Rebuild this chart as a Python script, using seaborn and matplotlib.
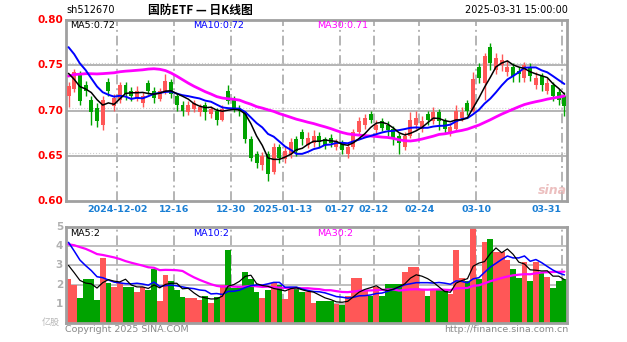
import numpy as np
import pandas as pd
import matplotlib
matplotlib.use("Agg")
import matplotlib.pyplot as plt
import seaborn as sns

# ---------------- data ----------------
symbol = "sh512670"
title = "国防ETF — 日K线图"
stamp = "2025-03-31 15:00:00"
price_legend = ["MA5:0.72", "MA10:0.72", "MA30:0.71"]
vol_legend = ["MA5:2", "MA10:2", "MA30:2"]
vol_unit = "亿股"

tick_labels = ["2024-12-02", "12-16", "12-30", "2025-01-13", "01-27",
               "02-12", "02-24", "03-10", "03-31"]
tick_index = [9, 19, 29, 38, 48, 54, 62, 72, 87]
price_ticks = [0.60, 0.65, 0.70, 0.75, 0.80]
vol_ticks = [1, 2, 3, 4, 5]

# 29 sessions before the visible window (only feed the moving averages)
prior_close = [0.690, 0.698, 0.705, 0.700, 0.695, 0.702, 0.708, 0.700, 0.694, 0.698,
               0.703, 0.706, 0.701, 0.697, 0.703, 0.740, 0.775, 0.800, 0.810, 0.815,
               0.820, 0.812, 0.795, 0.790, 0.778, 0.775, 0.750, 0.735, 0.718]
prior_volume = [3.5, 4.2, 5.0, 6.2, 5.5, 4.8, 4.0, 3.8, 4.6, 5.2,
                4.4, 3.9, 4.1, 4.3, 3.6, 4.9, 2.0, 2.4, 2.1, 2.5,
                6.5, 6.0, 5.2, 4.9, 4.4, 3.9, 3.3, 3.0, 2.5]

opens = [0.716, 0.724, 0.740, 0.728, 0.712, 0.703, 0.684, 0.732, 0.705, 0.712,
         0.728, 0.722, 0.714, 0.708, 0.730, 0.722, 0.713, 0.720, 0.731, 0.716,
         0.706, 0.698, 0.702, 0.698, 0.706, 0.696, 0.700, 0.690, 0.722, 0.712,
         0.703, 0.698, 0.668, 0.652, 0.640, 0.652, 0.632, 0.660, 0.646, 0.652,
         0.668, 0.676, 0.662, 0.664, 0.672, 0.668, 0.670, 0.660, 0.664, 0.652,
         0.660, 0.676, 0.684, 0.696, 0.678, 0.688, 0.684, 0.680, 0.672, 0.660,
         0.672, 0.684, 0.680, 0.696, 0.688, 0.698, 0.688, 0.676, 0.680, 0.692,
         0.708, 0.700, 0.748, 0.730, 0.770, 0.745, 0.750, 0.742, 0.748, 0.744,
         0.736, 0.748, 0.728, 0.738, 0.722, 0.728, 0.720, 0.716]
highs = [0.731, 0.746, 0.744, 0.733, 0.716, 0.708, 0.716, 0.736, 0.718, 0.732,
         0.731, 0.726, 0.727, 0.720, 0.734, 0.726, 0.725, 0.740, 0.735, 0.719,
         0.710, 0.710, 0.712, 0.707, 0.709, 0.705, 0.703, 0.706, 0.728, 0.716,
         0.706, 0.700, 0.672, 0.655, 0.654, 0.655, 0.664, 0.663, 0.660, 0.670,
         0.672, 0.680, 0.676, 0.678, 0.676, 0.671, 0.674, 0.669, 0.667, 0.664,
         0.680, 0.693, 0.696, 0.700, 0.690, 0.692, 0.688, 0.683, 0.675, 0.676,
         0.698, 0.700, 0.694, 0.700, 0.704, 0.702, 0.692, 0.686, 0.706, 0.704,
         0.712, 0.742, 0.752, 0.764, 0.775, 0.764, 0.762, 0.756, 0.752, 0.748,
         0.754, 0.752, 0.742, 0.741, 0.736, 0.732, 0.724, 0.720]
lows = [0.704, 0.720, 0.706, 0.716, 0.684, 0.682, 0.678, 0.716, 0.700, 0.708,
        0.712, 0.710, 0.710, 0.704, 0.718, 0.708, 0.710, 0.718, 0.714, 0.700,
        0.694, 0.695, 0.698, 0.694, 0.690, 0.692, 0.684, 0.688, 0.707, 0.698,
        0.694, 0.664, 0.644, 0.636, 0.634, 0.622, 0.630, 0.642, 0.642, 0.648,
        0.650, 0.662, 0.659, 0.660, 0.660, 0.657, 0.660, 0.656, 0.652, 0.648,
        0.658, 0.673, 0.680, 0.686, 0.675, 0.677, 0.672, 0.662, 0.652, 0.656,
        0.670, 0.680, 0.676, 0.684, 0.685, 0.678, 0.674, 0.672, 0.677, 0.688,
        0.695, 0.698, 0.730, 0.712, 0.745, 0.740, 0.744, 0.738, 0.732, 0.732,
        0.732, 0.733, 0.724, 0.722, 0.718, 0.710, 0.706, 0.694]
closes = [0.727, 0.742, 0.710, 0.722, 0.698, 0.688, 0.712, 0.722, 0.714, 0.728,
          0.718, 0.716, 0.722, 0.716, 0.722, 0.714, 0.722, 0.733, 0.718, 0.706,
          0.700, 0.706, 0.708, 0.704, 0.698, 0.702, 0.690, 0.702, 0.710, 0.702,
          0.699, 0.668, 0.648, 0.642, 0.650, 0.630, 0.660, 0.648, 0.655, 0.665,
          0.655, 0.668, 0.670, 0.672, 0.665, 0.662, 0.664, 0.666, 0.656, 0.660,
          0.676, 0.688, 0.692, 0.690, 0.684, 0.681, 0.678, 0.670, 0.664, 0.672,
          0.690, 0.692, 0.688, 0.690, 0.698, 0.688, 0.680, 0.682, 0.700, 0.698,
          0.700, 0.735, 0.736, 0.760, 0.752, 0.758, 0.756, 0.748, 0.738, 0.740,
          0.750, 0.738, 0.736, 0.728, 0.730, 0.716, 0.712, 0.705]
volumes = [2.3, 2.0, 1.3, 2.3, 2.3, 1.2, 3.4, 2.1, 1.9, 2.1,
           1.9, 1.9, 1.6, 1.9, 1.7, 2.8, 1.15, 2.5, 2.2, 1.7,
           1.35, 1.3, 1.3, 1.2, 1.4, 1.05, 1.35, 2.0, 3.8, 1.8,
           1.9, 2.65, 2.3, 1.6, 1.3, 1.7, 2.1, 2.0, 1.25, 1.9,
           1.9, 1.6, 1.6, 1.05, 1.15, 1.15, 1.15, 1.0, 0.95, 1.4,
           2.35, 2.35, 1.7, 1.4, 1.9, 1.4, 2.05, 2.05, 2.05, 2.65,
           2.9, 2.9, 1.7, 1.4, 1.7, 1.7, 1.7, 1.5, 3.8, 2.35,
           2.2, 4.95, 2.3, 4.2, 4.4, 3.7, 3.7, 3.3, 2.8, 2.35,
           3.2, 2.2, 3.2, 2.6, 2.4, 1.8, 2.2, 2.3]

# ---------------- derived ----------------
n = len(closes)
idx = np.arange(n)
all_close = pd.Series(prior_close + closes)
all_vol = pd.Series(prior_volume + volumes)
ma = {w: all_close.rolling(w).mean().to_numpy()[-n:] for w in (5, 10, 30)}
vma = {w: all_vol.rolling(w).mean().to_numpy()[-n:] for w in (5, 10, 30)}
df = pd.DataFrame({"i": idx, "o": opens, "h": highs, "l": lows, "c": closes, "v": volumes})
df["up"] = df["c"] >= df["o"]

RED = "#ff5757"
GREEN = "#00a300"
GRID = "#b4b4b4"
FRAME = "#a0a0a0"
MA_COLORS = {5: "#000000", 10: "#0000ff", 30: "#ff00ff"}
MA_LW = {5: 1.1, 10: 1.4, 30: 2.0}

sns.set_theme(style="white")
plt.rcParams["font.family"] = ["DejaVu Sans", "Noto Sans CJK SC"]
CJK = ["Noto Sans CJK SC", "DejaVu Sans"]

fig = plt.figure(figsize=(6.27, 3.42), dpi=100)
W, H = 627.0, 342.0
def box(x0, y0, x1, y1):
    return [x0 / W, 1 - y1 / H, (x1 - x0) / W, (y1 - y0) / H]

axp = fig.add_axes(box(66, 20, 567, 201))
axv = fig.add_axes(box(66, 227, 567, 323))
xlo, xhi = -0.44, n - 0.54

for ax in (axp, axv):
    ax.set_xlim(xlo, xhi)
    for s in ax.spines.values():
        s.set_color(FRAME)
        s.set_linewidth(2.0)
    ax.set_xticks([])
    ax.set_yticks([])
    ax.set_facecolor("white")
    for t in tick_index:
        ax.axvline(t - 0.45, color=GRID, lw=1.4, ls=(0, (5, 2, 1, 2)), zorder=0)

# price panel
axp.set_ylim(price_ticks[0], price_ticks[-1])
for p in price_ticks[1:-1]:
    axp.axhline(p, color=GRID, lw=1.4, zorder=0)
    axp.axhline(p + 0.003, color="#cfcfcf", lw=0.8, ls=":", zorder=0)

for row in df.itertuples():
    col = RED if row.up else GREEN
    axp.vlines(row.i, row.l, row.h, color=col, lw=1.0, zorder=2)
    lo, hi = min(row.o, row.c), max(row.o, row.c)
    axp.bar(row.i, max(hi - lo, 0.0008), bottom=lo, width=0.7, color=col, lw=0, zorder=3)

for w in (30, 10, 5):
    sns.lineplot(x=idx, y=ma[w], ax=axp, color=MA_COLORS[w], lw=MA_LW[w], zorder=5)

for p in price_ticks:
    fig.text(63 / W, 1 - (201 - (p - 0.60) / 0.20 * 181) / H, f"{p:.2f}", color="#ff0000",
             fontsize=7.5, ha="right", va="center", fontweight="bold")

fig.text(70 / W, 1 - 25 / H, price_legend[0], color="black", fontsize=6.8, va="center")
fig.text(193 / W, 1 - 25 / H, price_legend[1], color="#0000ff", fontsize=6.8, va="center")
fig.text(317 / W, 1 - 25 / H, price_legend[2], color="#ff00ff", fontsize=6.8, va="center")

# x labels
for lab, t in zip(tick_labels, tick_index):
    xpix = 68.5 + 5.7 * (t - 0.45)
    ha = "center"
    if t == tick_index[-1]:
        ha = "right"
    fig.text(xpix / W, 1 - 210 / H, lab, color="#1a7fd4", fontsize=6.8,
             ha=ha, va="center", fontweight="bold")

# watermark
fig.text(552 / W, 1 - 190 / H, "sina", color="#e8b0b0", fontsize=9, ha="center",
         va="center", fontweight="bold", style="italic", alpha=0.8)

# volume panel
axv.set_ylim(0, vol_ticks[-1])
for v in vol_ticks[:-1]:
    axv.axhline(v, color=GRID, lw=1.2, zorder=0)
vcols = [RED if u else GREEN for u in df["up"]]
axv.bar(df["i"], df["v"], width=1.0, color=vcols, lw=0, zorder=2)
for w in (30, 10, 5):
    sns.lineplot(x=idx, y=vma[w], ax=axv, color=MA_COLORS[w], lw=MA_LW[w] * 0.8, zorder=5)

for v in vol_ticks:
    fig.text(63 / W, 1 - (323 - v / 5 * 96) / H, str(v), color="#b0b0b0",
             fontsize=7.5, ha="right", va="center", fontweight="bold")
fig.text(60 / W, 1 - 322 / H, vol_unit, color="#b8b8b8", fontsize=6.5, ha="right",
         va="center", family=CJK)
fig.text(70 / W, 1 - 233 / H, vol_legend[0], color="black", fontsize=6.8, va="center")
fig.text(193 / W, 1 - 233 / H, vol_legend[1], color="#0000ff", fontsize=6.8, va="center")
fig.text(317 / W, 1 - 233 / H, vol_legend[2], color="#ff00ff", fontsize=6.8, va="center")

# header & footer
fig.text(66 / W, 1 - 10 / H, symbol, color="black", fontsize=7, va="center")
fig.text(200 / W, 1 - 10 / H, title, color="black", fontsize=8.5, ha="center",
         va="center", family=CJK, fontweight="bold")
fig.text(568 / W, 1 - 10 / H, stamp, color="black", fontsize=7, ha="right", va="center")
fig.text(65 / W, 1 - 329 / H, "Copyright 2025 SINA.COM", color="#8a8a8a", fontsize=6.8,
         va="center")
fig.text(568 / W, 1 - 329 / H, "http://finance.sina.com.cn", color="#8a8a8a",
         fontsize=6.8, ha="right", va="center")

fig.savefig("out.png", dpi=100, facecolor="white")
